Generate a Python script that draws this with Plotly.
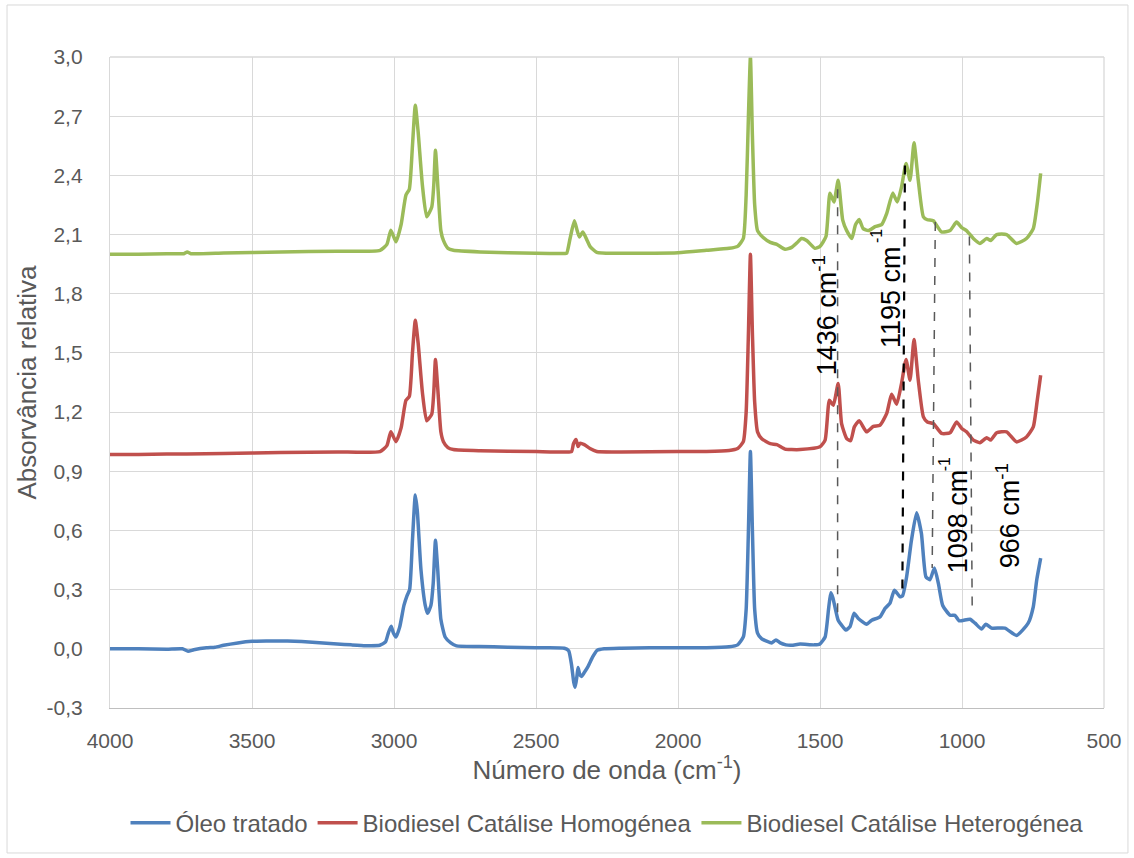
import plotly.graph_objects as go

# ---------------- data ----------------
wn_blue = [4000, 3900, 3800, 3745, 3725, 3705, 3660, 3630, 3600, 3550, 3500, 3450, 3400, 3350, 3300, 3250,
           3200, 3150, 3100, 3050, 3030, 3020, 3010, 3002, 2993, 2980, 2965, 2954, 2945, 2935, 2925, 2918,
           2905, 2890, 2882, 2870, 2862, 2854, 2846, 2835, 2820, 2800, 2780, 2700, 2600, 2500, 2400, 2385,
           2375, 2367, 2362, 2356, 2352, 2346, 2340, 2330, 2317, 2300, 2285, 2260, 2200, 2100, 2000, 1900,
           1820, 1790, 1770, 1760, 1752, 1745, 1738, 1730, 1720, 1705, 1690, 1670, 1655, 1640, 1620, 1600,
           1570, 1520, 1500, 1482, 1470, 1462, 1455, 1447, 1436, 1424, 1409, 1394, 1380, 1366, 1336, 1318,
           1289, 1271, 1254, 1238, 1218, 1209, 1195, 1178, 1160, 1143, 1127, 1113, 1097, 1083, 1068, 1042,
           1025, 1010, 972, 954, 931, 916, 896, 849, 808, 767, 749, 737, 723]
abs_blue = [0.0, 0.0, -0.002, 0.0, -0.012, -0.005, 0.005, 0.008, 0.018, 0.03, 0.038, 0.04, 0.04, 0.038, 0.035, 0.03,
            0.025, 0.02, 0.016, 0.018, 0.035, 0.08, 0.115, 0.08, 0.06, 0.11, 0.22, 0.27, 0.3, 0.55, 0.78, 0.70,
            0.40, 0.22, 0.18, 0.22, 0.33, 0.55, 0.40, 0.15, 0.06, 0.03, 0.015, 0.012, 0.008, 0.005, 0.003, -0.01,
            -0.08, -0.17, -0.195, -0.14, -0.095, -0.13, -0.14, -0.12, -0.09, -0.04, -0.008, 0.0, 0.003, 0.005, 0.005, 0.005,
            0.01, 0.02, 0.06, 0.2, 0.6, 1.0, 0.6, 0.2, 0.08, 0.05, 0.04, 0.03, 0.045, 0.03, 0.02, 0.018,
            0.024, 0.02, 0.025, 0.06, 0.2, 0.284, 0.26, 0.21, 0.145, 0.12, 0.095, 0.113, 0.18, 0.155, 0.125, 0.145,
            0.162, 0.205, 0.23, 0.297, 0.264, 0.27, 0.365, 0.55, 0.69, 0.585, 0.365, 0.35, 0.41, 0.33, 0.22, 0.17,
            0.17, 0.142, 0.15, 0.13, 0.10, 0.125, 0.105, 0.105, 0.068, 0.13, 0.213, 0.348, 0.46]

wn_red = [4000, 3900, 3800, 3730, 3600, 3400, 3200, 3049, 3025, 3011, 2993, 2975, 2958, 2946, 2935, 2925,
          2915, 2900, 2885, 2867, 2860, 2854, 2845, 2835, 2826, 2810, 2791, 2697, 2500, 2400, 2375, 2368,
          2359, 2352, 2345, 2330, 2310, 2286, 2200, 2000, 1900, 1820, 1790, 1770, 1760, 1752, 1745, 1738,
          1730, 1720, 1705, 1675, 1652, 1623, 1600, 1570, 1500, 1482, 1467, 1453, 1436, 1424, 1406, 1392,
          1379, 1362, 1336, 1312, 1289, 1265, 1248, 1230, 1213, 1197, 1183, 1169, 1154, 1136, 1122, 1101,
          1072, 1042, 1019, 1001, 984, 960, 937, 913, 899, 878, 843, 808, 773, 749, 735, 723]
abs_red = [0.985, 0.985, 0.988, 0.988, 0.99, 0.995, 0.998, 1.0, 1.03, 1.1, 1.05, 1.12, 1.26, 1.28, 1.50, 1.666,
           1.55, 1.30, 1.156, 1.19, 1.30, 1.467, 1.30, 1.10, 1.05, 1.02, 1.01, 1.004, 1.0, 0.998, 1.0, 1.04,
           1.061, 1.025, 1.042, 1.035, 1.015, 1.0, 0.998, 1.0, 1.0, 1.005, 1.015, 1.05, 1.2, 1.6, 2.0, 1.6,
           1.25, 1.1, 1.065, 1.04, 1.035, 1.012, 1.01, 1.01, 1.024, 1.058, 1.26, 1.235, 1.345, 1.142, 1.066, 1.055,
           1.125, 1.156, 1.10, 1.128, 1.133, 1.193, 1.29, 1.24, 1.345, 1.467, 1.362, 1.568, 1.362, 1.176, 1.15, 1.142,
           1.092, 1.095, 1.15, 1.117, 1.10, 1.058, 1.045, 1.07, 1.058, 1.095, 1.10, 1.049, 1.074, 1.125, 1.26, 1.387]

wn_green = [4000, 3900, 3800, 3740, 3728, 3715, 3600, 3400, 3200, 3049, 3025, 3011, 2993, 2975, 2958, 2946,
            2935, 2925, 2915, 2900, 2885, 2867, 2860, 2854, 2845, 2835, 2826, 2810, 2791, 2697, 2500, 2400,
            2392, 2380, 2365, 2355, 2347, 2335, 2320, 2310, 2286, 2200, 2000, 1900, 1820, 1790, 1770, 1760,
            1752, 1745, 1738, 1730, 1720, 1701, 1675, 1652, 1623, 1600, 1580, 1565, 1547, 1518, 1500, 1479,
            1465, 1451, 1436, 1420, 1406, 1388, 1375, 1362, 1348, 1330, 1306, 1283, 1265, 1244, 1228, 1213,
            1197, 1183, 1169, 1154, 1136, 1122, 1101, 1072, 1042, 1019, 1001, 984, 960, 937, 913, 899,
            878, 843, 808, 773, 749, 735, 723]
abs_green = [2.0, 2.0, 2.003, 2.003, 2.012, 2.003, 2.006, 2.012, 2.015, 2.02, 2.05, 2.122, 2.063, 2.15, 2.30, 2.33,
             2.55, 2.756, 2.62, 2.35, 2.19, 2.24, 2.35, 2.527, 2.33, 2.12, 2.07, 2.03, 2.02, 2.012, 2.005, 2.004,
             2.005, 2.08, 2.17, 2.12, 2.088, 2.113, 2.07, 2.04, 2.01, 2.005, 2.008, 2.02, 2.03, 2.04, 2.08, 2.3,
             2.7, 3.0, 2.6, 2.25, 2.12, 2.086, 2.06, 2.05, 2.025, 2.035, 2.06, 2.08, 2.07, 2.03, 2.04, 2.09,
             2.31, 2.265, 2.375, 2.173, 2.12, 2.08, 2.15, 2.176, 2.13, 2.12, 2.14, 2.15, 2.207, 2.31, 2.265, 2.34,
             2.46, 2.375, 2.565, 2.375, 2.19, 2.175, 2.17, 2.113, 2.12, 2.163, 2.135, 2.12, 2.08, 2.055, 2.08, 2.07,
             2.10, 2.10, 2.055, 2.08, 2.13, 2.257, 2.41]

series_names = ["Óleo tratado", "Biodiesel Catálise Homogénea", "Biodiesel Catálise Heterogénea"]
series_colors = ["#4F81BD", "#C0504D", "#9BBB59"]

y_tickvals = [-0.3, 0.0, 0.3, 0.6, 0.9, 1.2, 1.5, 1.8, 2.1, 2.4, 2.7, 3.0]
y_ticktext = ["-0,3", "0,0", "0,3", "0,6", "0,9", "1,2", "1,5", "1,8", "2,1", "2,4", "2,7", "3,0"]
x_tickvals = [4000, 3500, 3000, 2500, 2000, 1500, 1000, 500]

# marker lines: (x_top, y_top, x_bottom, y_bottom, color, width)
marker_lines = [
    (1438, 2.33, 1438, 0.145, "#595959", 1.5),
    (1201, 2.45, 1210, 0.29, "#000000", 2.2),
    (1094, 2.164, 1105, 0.41, "#595959", 1.5),
    (974, 2.09, 964, 0.196, "#595959", 1.5),
]
# labels: (text, x, y, size)
marker_labels = [
    ("1436 cm<sup>-1</sup>", 1482, 1.691, 27),
    ("1195 cm", 1250, 1.783, 27),
    ("-1", 1303, 2.092, 16),
    ("1098 cm", 1014, 0.647, 27),
    ("-1", 1063, 0.936, 16),
    ("966 cm<sup>-1</sup>", 838, 0.672, 27),
]

FONT = "Liberation Sans"
GREY = "#595959"

fig = go.Figure()
for wn, ab, name, col in zip([wn_blue, wn_red, wn_green], [abs_blue, abs_red, abs_green],
                             series_names, series_colors):
    fig.add_trace(go.Scatter(x=wn, y=ab, mode="lines", name=name,
                             line=dict(color=col, width=3.5, shape="spline", smoothing=0.5)))

shapes = []
for x0, y0, x1, y1, c, w in marker_lines:
    shapes.append(dict(type="line", xref="x", yref="y", x0=x0, y0=y0, x1=x1, y1=y1,
                       line=dict(color=c, width=w, dash="dash")))
# chart-area border
shapes.append(dict(type="rect", xref="paper", yref="paper", x0=-0.1036, x1=1.0241, y0=-0.2227, y1=1.0799,
                   line=dict(color="#d9d9d9", width=1), fillcolor="rgba(0,0,0,0)", layer="below"))
# right & top plot-area edges
shapes.append(dict(type="line", xref="paper", yref="paper", x0=1, x1=1, y0=0, y1=1,
                   line=dict(color="#d9d9d9", width=1.3)))
shapes.append(dict(type="line", xref="paper", yref="paper", x0=0, x1=1, y0=1, y1=1,
                   line=dict(color="#d9d9d9", width=1.3)))

annotations = []
for t, x, y, s in marker_labels:
    annotations.append(dict(text=t, x=x, y=y, xref="x", yref="y", showarrow=False, textangle=-90,
                            font=dict(family=FONT, size=s, color="#000000"),
                            xanchor="center", yanchor="middle"))

fig.update_layout(
    width=1134, height=858,
    margin=dict(l=110, r=30, t=57, b=150),
    paper_bgcolor="white", plot_bgcolor="white",
    font=dict(family=FONT, color=GREY, size=21),
    shapes=shapes, annotations=annotations,
    showlegend=True,
    legend=dict(orientation="h", x=0.5, xanchor="center", y=-0.177, yanchor="middle",
                font=dict(family=FONT, size=24, color=GREY), itemwidth=40, tracegroupgap=0),
    xaxis=dict(range=[4000, 500], tickvals=x_tickvals, ticks="", showgrid=True, gridcolor="#d9d9d9",
               gridwidth=1.3, showline=True, linecolor="#bfbfbf", linewidth=1.3, mirror=False, zeroline=False,
               ticklabelstandoff=14, tickfont=dict(size=21, color=GREY),
               title=dict(text="Número de onda (cm<sup>-1</sup>)", font=dict(size=26, color=GREY), standoff=8)),
    yaxis=dict(range=[-0.3, 3.0], tickvals=y_tickvals, ticktext=y_ticktext, ticks="", showgrid=True,
               gridcolor="#d9d9d9", gridwidth=1.3, showline=True, linecolor="#d9d9d9", linewidth=1.3,
               zeroline=False, ticklabelstandoff=22, tickfont=dict(size=21, color=GREY),
               title=dict(text="Absorvância relativa", font=dict(size=26, color=GREY), standoff=2)),
)

fig.write_html("out.html", config={"displayModeBar": False},
               post_script="document.body.style.margin='0';document.body.style.overflow='hidden';")
